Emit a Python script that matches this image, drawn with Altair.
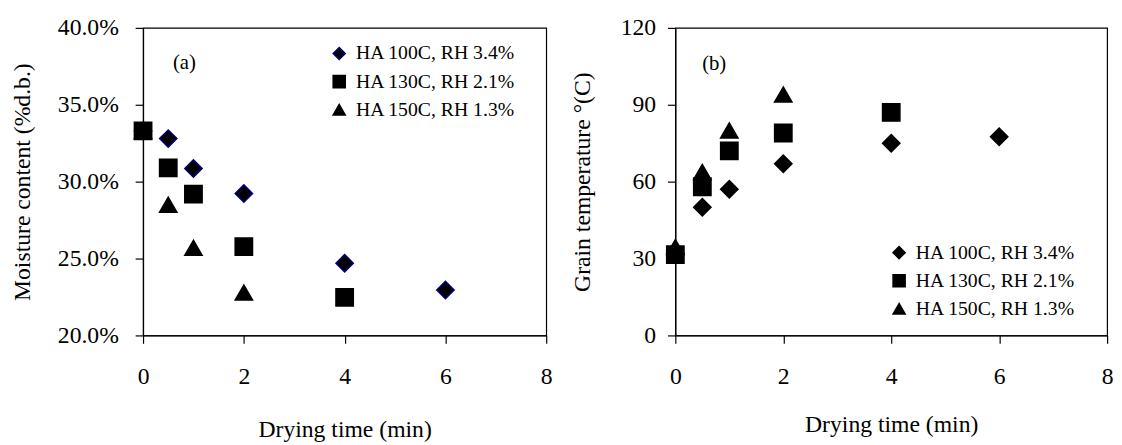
import altair as alt
import pandas as pd

# ---------------- data ----------------
series = ["HA 100C, RH 3.4%", "HA 130C, RH 2.1%", "HA 150C, RH 1.3%"]

time_100 = [0, 0.5, 1, 2, 4, 6]
moist_100 = [0.333, 0.328, 0.3085, 0.2923, 0.247, 0.2295]
temp_100 = [32, 50, 57, 67, 75, 77.5]

time_130 = [0, 0.5, 1, 2, 4]
moist_130 = [0.333, 0.309, 0.2919, 0.2577, 0.2248]
temp_130 = [31.5, 58, 72, 79, 87]

time_150 = [0, 0.5, 1, 2]
moist_150 = [0.333, 0.285, 0.257, 0.2279]
temp_150 = [34.5, 63.8, 80, 94]

x_ticks = [0, 2, 4, 6, 8]
moist_ticks = [0.20, 0.25, 0.30, 0.35, 0.40]
temp_ticks = [0, 30, 60, 90, 120]

panel_labels = ["(a)", "(b)"]
label_x = [0.82, 0.72]
label_y_moist = [0.377]
label_y_temp = [106]

FONT = "Liberation Serif"

rows = []
# draw order: diamond, triangle, square (square on top at t=0)
for t, m, g in zip(time_100, moist_100, temp_100):
    rows.append({"series": series[0], "time": t, "moist": m, "temp": g})
for t, m, g in zip(time_150, moist_150, temp_150):
    rows.append({"series": series[2], "time": t, "moist": m, "temp": g})
for t, m, g in zip(time_130, moist_130, temp_130):
    rows.append({"series": series[1], "time": t, "moist": m, "temp": g})
df = pd.DataFrame(rows)

shape_scale = alt.Scale(domain=series, range=["diamond", "square", "triangle-up"])
fill_scale = alt.Scale(domain=series, range=["#000000", "#000000", "#000000"])


def make_panel(yfield, ydomain, yticks, yfmt, ytitle, stroke_range,
               lx, ly, lab_text, lab_x, lab_y, width, ylabpad, ytitlepad, xtitlepad):
    def leg():
        return alt.Legend(
            title=None, orient="none", legendX=lx, legendY=ly,
            labelFont=FONT, labelFontSize=20, labelColor="black", labelLimit=0,
            symbolSize=150, symbolStrokeWidth=1.5, rowPadding=8.5,
            labelOffset=7, padding=0,
        )
    xaxis = alt.Axis(values=x_ticks, title="Drying time (min)", grid=False,
                     tickSize=8, labelPadding=22, titlePadding=xtitlepad,
                     labelFontSize=24, titleFontSize=24, format="d", labelFlush=False,
                     labelFont=FONT, titleFont=FONT, titleFontWeight="normal")
    yaxis = alt.Axis(values=yticks, title=ytitle, grid=False, format=yfmt,
                     tickSize=8, labelPadding=ylabpad, titlePadding=ytitlepad,
                     labelFontSize=24, titleFontSize=24, labelFlush=False,
                     labelFont=FONT, titleFont=FONT, titleFontWeight="normal")
    stroke_scale = alt.Scale(domain=series, range=stroke_range)
    pts = alt.Chart(df).mark_point(filled=True, opacity=1, strokeWidth=1.5, size=310).encode(
        x=alt.X("time:Q", scale=alt.Scale(domain=[0, 8], nice=False), axis=xaxis),
        y=alt.Y(yfield, scale=alt.Scale(domain=ydomain, nice=False), axis=yaxis),
        shape=alt.Shape("series:N", scale=shape_scale, legend=leg()),
        fill=alt.Fill("series:N", scale=fill_scale, legend=leg()),
        stroke=alt.Stroke("series:N", scale=stroke_scale, legend=leg()),
    )
    ldf = pd.DataFrame({"label": [lab_text], "time": [lab_x], yfield.split(":")[0]: [lab_y]})
    txt = alt.Chart(ldf).mark_text(font=FONT, fontSize=21, color="black").encode(
        x="time:Q", y=yfield, text="label:N"
    )
    return alt.layer(pts, txt).properties(width=width, height=312)


left = make_panel("moist:Q", [0.2, 0.4], moist_ticks, ".1%",
                  "Moisture content (%d.b.)",
                  ["#000080", "#000000", "#000000"],
                  189, 16, panel_labels[0], label_x[0], label_y_moist[0],
                  409, 17, 23, 30)
right = make_panel("temp:Q", [0, 120], temp_ticks, "d",
                   "Grain temperature \u00b0(C)",
                   ["#000000", "#000000", "#000000"],
                   217, 218, panel_labels[1], label_x[1], label_y_temp[0],
                   438, 12, 26, 24)

chart = alt.hconcat(left, right, spacing=17).resolve_scale(
    shape="independent", fill="independent", stroke="independent",
    x="independent", y="independent"
).properties(
    padding={"left": 2, "top": 4, "right": 0, "bottom": 0},
    background="white"
).configure_view(
    stroke="black", strokeWidth=1.2
).configure_axis(
    labelFont=FONT, titleFont=FONT, labelColor="black", titleColor="black",
    domainColor="black", tickColor="black", titleFontWeight="normal",
    domainWidth=1.2, tickWidth=1.2
)

chart.save("out.html", embed_options={"renderer": "svg", "actions": False})
